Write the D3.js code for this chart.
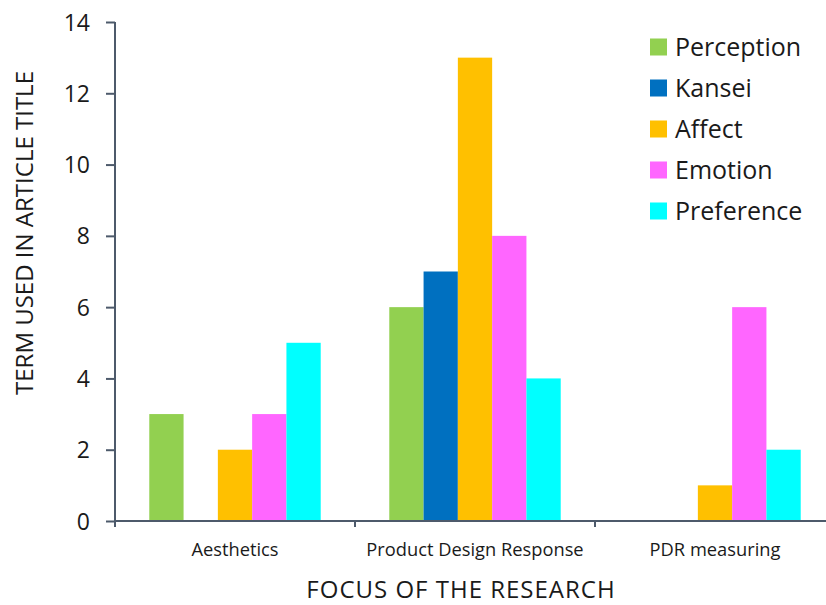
<!DOCTYPE html>
<html>
<head>
<meta charset="utf-8">
<script src="https://cdn.jsdelivr.net/npm/d3@7"></script>
<style>
  body { margin: 0; background: #fff; }
  svg text { font-family: "Open Sans", Lato, sans-serif; fill: #1a1a1a; }
</style>
</head>
<body>
<svg id="chart" width="826" height="605"></svg>
<script>
// Focus categories along the x axis
const categories = ["Aesthetics", "Product Design Response", "PDR measuring"];
// Terms used in article titles (one series per term)
const seriesNames = ["Perception", "Kansei", "Affect", "Emotion", "Preference"];
const perception = [3, 6, 0];
const kansei     = [0, 7, 0];
const affect     = [2, 13, 1];
const emotion    = [3, 8, 6];
const preference = [5, 4, 2];
const seriesColors = ["#92d050", "#0070c0", "#ffc000", "#ff66ff", "#00ffff"];
const yTicks = [0, 2, 4, 6, 8, 10, 12, 14];

const seriesValues = [perception, kansei, affect, emotion, preference];
const svg = d3.select("#chart");

const plotLeft = 115, plotRight = 835, plotTop = 22, plotBottom = 521;
const axisColor = "#4d5a6b";

const x0 = d3.scaleBand().domain(categories).range([plotLeft, plotRight]).paddingInner(0).paddingOuter(0);
const x1 = d3.scaleBand().domain(seriesNames).range([0, x0.bandwidth()]).paddingInner(0).paddingOuter(1);
const y = d3.scaleLinear().domain([0, 14]).range([plotBottom, plotTop]);

// Bars
const rows = categories.map((c, i) => ({ cat: c, vals: seriesNames.map((s, j) => ({ s, v: seriesValues[j][i], c: seriesColors[j] })) }));
const groups = svg.append("g").selectAll("g").data(rows).join("g")
  .attr("transform", d => `translate(${x0(d.cat)},0)`);
groups.selectAll("rect").data(d => d.vals.filter(e => e.v > 0)).join("rect")
  .attr("x", d => x1(d.s))
  .attr("width", x1.bandwidth())
  .attr("y", d => y(d.v))
  .attr("height", d => y(0) - y(d.v))
  .attr("fill", d => d.c);

// Y axis
const yAxis = svg.append("g").attr("transform", `translate(${plotLeft},0)`)
  .call(d3.axisLeft(y).tickValues(yTicks).tickSize(9).tickPadding(16));
yAxis.select(".domain").attr("stroke", axisColor).attr("stroke-width", 2).attr("d", `M0,${plotTop}V${plotBottom}`);
yAxis.selectAll(".tick line").attr("stroke", axisColor).attr("stroke-width", 2);
yAxis.selectAll(".tick text").style("font-size", "23px").attr("dy", "0.35em");

// X axis with ticks at category boundaries
const xg = svg.append("g").attr("transform", `translate(0,${plotBottom})`);
xg.append("line").attr("x1", plotLeft).attr("x2", plotRight).attr("y1", 0).attr("y2", 0)
  .attr("stroke", axisColor).attr("stroke-width", 2);
const bounds = categories.map(c => x0(c)).concat([plotRight]);
xg.selectAll("line.tk").data(bounds).join("line").attr("class", "tk")
  .attr("x1", d => d).attr("x2", d => d).attr("y1", 0).attr("y2", 6)
  .attr("stroke", axisColor).attr("stroke-width", 2);
xg.selectAll("text").data(categories).join("text")
  .attr("x", d => x0(d) + x0.bandwidth() / 2)
  .attr("y", 35)
  .attr("text-anchor", "middle")
  .style("font-size", "18.3px")
  .text(d => d);

// Axis titles
svg.append("text").attr("x", 461).attr("y", 598).attr("text-anchor", "middle")
  .style("font-size", "24px").style("letter-spacing", "1px").text("FOCUS OF THE RESEARCH");
svg.append("text").attr("transform", "translate(33,233) rotate(-90)").attr("text-anchor", "middle")
  .style("font-size", "24px").text("TERM USED IN ARTICLE TITLE");

// Legend
const legend = svg.append("g").selectAll("g").data(seriesNames).join("g")
  .attr("transform", (d, i) => `translate(650,${47 + i * 41})`);
legend.append("rect").attr("x", 0).attr("y", -8.5).attr("width", 17).attr("height", 17)
  .attr("fill", (d, i) => seriesColors[i]);
legend.append("text").attr("x", 25).attr("y", 0).attr("dy", "0.35em")
  .style("font-size", "25px").text(d => d);
</script>
</body>
</html>
